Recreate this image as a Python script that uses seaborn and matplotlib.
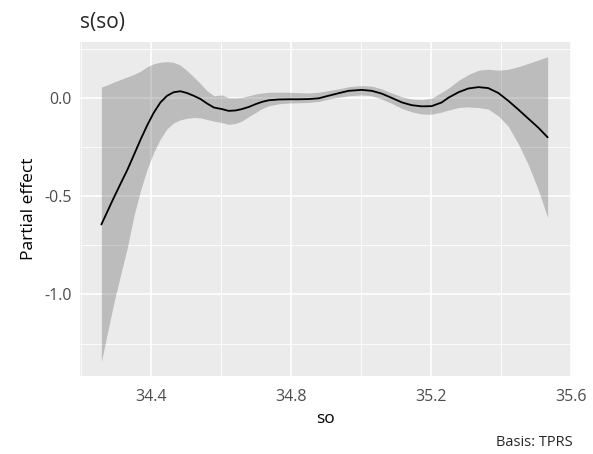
import numpy as np
import pandas as pd
import seaborn as sns
import matplotlib.pyplot as plt
from matplotlib.ticker import MultipleLocator, FixedLocator

# values (partial effect of s(so) with confidence band)
so = [34.257, 34.275, 34.293, 34.312, 34.331, 34.350, 34.369, 34.388, 34.407,
      34.426, 34.445, 34.464, 34.483, 34.502, 34.521, 34.541, 34.559, 34.579,
      34.602, 34.621, 34.641, 34.659, 34.679, 34.698, 34.717, 34.736, 34.764,
      34.793, 34.821, 34.850, 34.879, 34.907,
      34.936, 34.964, 35.002, 35.031, 35.059, 35.088, 35.117, 35.145, 35.174,
      35.202, 35.231, 35.250,
      35.279, 35.307, 35.336, 35.364, 35.393, 35.421, 35.450, 35.479, 35.507,
      35.534]
est = [-0.643, -0.574, -0.505, -0.435, -0.366, -0.289, -0.211, -0.138, -0.073,
       -0.021, 0.013, 0.031, 0.036, 0.027, 0.013, -0.004, -0.026, -0.047,
       -0.055, -0.064, -0.062, -0.055, -0.044, -0.030, -0.018, -0.010, -0.006,
       -0.005, -0.005, -0.004, 0.000, 0.013,
       0.026, 0.038, 0.043, 0.038, 0.024, 0.002, -0.021, -0.035, -0.041,
       -0.040, -0.021, 0.003,
       0.031, 0.050, 0.057, 0.052, 0.027, -0.012, -0.057, -0.104, -0.149,
       -0.199]
lower = [-1.342, -1.190, -1.040, -0.900, -0.764, -0.600, -0.470, -0.361, -0.275,
         -0.206, -0.155, -0.125, -0.110, -0.102, -0.098, -0.100, -0.108, -0.116,
         -0.124, -0.133, -0.128, -0.116, -0.093, -0.073, -0.052, -0.038, -0.028,
         -0.024, -0.023, -0.021, -0.016, -0.004,
         0.005, 0.013, 0.017, 0.013, -0.004, -0.026, -0.052, -0.069, -0.080,
         -0.081, -0.070, -0.060,
         -0.047, -0.044, -0.047, -0.055, -0.090, -0.142, -0.232, -0.340, -0.465,
         -0.608]
upper = [0.057, 0.069, 0.083, 0.096, 0.109, 0.122, 0.138, 0.161, 0.176,
         0.184, 0.187, 0.183, 0.169, 0.141, 0.109, 0.074, 0.039, 0.013,
         0.017, 0.003, 0.002, 0.005, 0.013, 0.022, 0.027, 0.031, 0.031,
         0.031, 0.029, 0.027, 0.031, 0.039,
         0.048, 0.059, 0.065, 0.062, 0.048, 0.027, 0.008, -0.004, -0.007,
         0.000, 0.031, 0.052,
         0.091, 0.121, 0.143, 0.148, 0.143, 0.148, 0.161, 0.178, 0.195,
         0.212]

x_ticks = [34.4, 34.8, 35.2, 35.6]
y_ticks = [-1.0, -0.5, 0.0]

df = pd.DataFrame({"so": so, "est": est, "lower": lower, "upper": upper})

sns.set_theme(style="darkgrid", rc={
    "axes.facecolor": "#EBEBEB",
    "grid.color": "white",
    "axes.edgecolor": "#EBEBEB",
})
plt.rcParams["font.family"] = ["Open Sans", "DejaVu Sans"]

fig = plt.figure(figsize=(5.93, 4.54), dpi=100)
ax = fig.add_axes([0.135, 0.172, 0.828, 0.7355])

# confidence band, then the smooth estimate
ax.fill_between(df["so"], df["lower"], df["upper"], color="black", alpha=0.2,
                linewidth=0, zorder=2)
sns.lineplot(data=df, x="so", y="est", color="black", linewidth=1.3, ax=ax, zorder=3)

ax.set_xlim(34.196, 35.601)
ax.set_ylim(-1.415, 0.287)
ax.xaxis.set_major_locator(FixedLocator(x_ticks))
ax.yaxis.set_major_locator(FixedLocator(y_ticks))
ax.xaxis.set_minor_locator(MultipleLocator(0.2))
ax.yaxis.set_minor_locator(MultipleLocator(0.25))
ax.set_xticklabels([f"{v:.1f}" for v in x_ticks])
ax.set_yticklabels([f"{v:.1f}" for v in y_ticks])
ax.grid(which="major", color="white", linewidth=1.2)
ax.grid(which="minor", color="white", linewidth=0.6)
ax.set_axisbelow(True)
for s in ax.spines.values():
    s.set_visible(False)

ax.tick_params(which="major", length=3.5, width=0.9, color="#333333",
               labelcolor="#4D4D4D", labelsize=11.5)
ax.tick_params(axis="x", which="major", pad=6)
ax.tick_params(axis="y", which="major", pad=2.5)
ax.tick_params(which="minor", length=0)

ax.set_xlabel("so", fontsize=12.5, color="black", labelpad=4)
ax.set_ylabel("Partial effect", fontsize=12.5, color="black", labelpad=5)
ax.set_title("s(so)", loc="left", fontsize=15, pad=10)
fig.text(0.965, 0.026, "Basis: TPRS", ha="right", va="center", fontsize=10.5)

fig.savefig("out.png", dpi=100)
